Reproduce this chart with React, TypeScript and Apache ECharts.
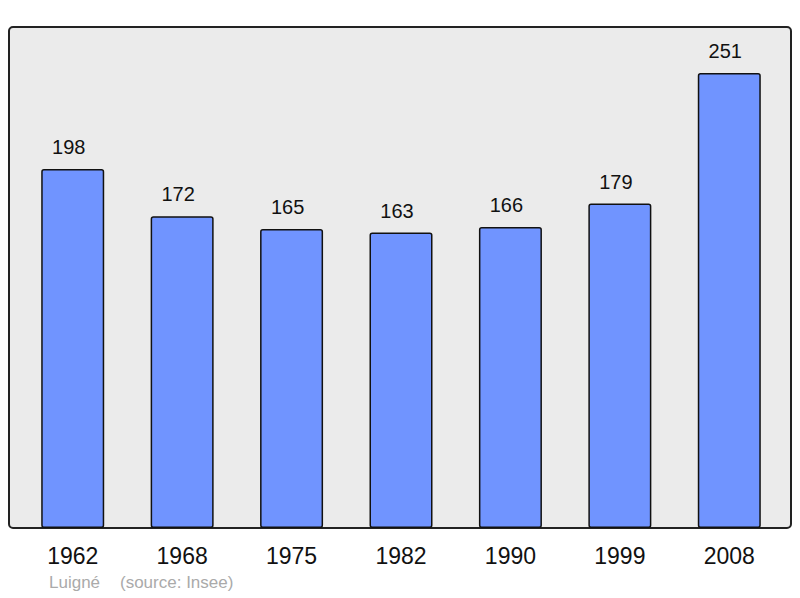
import React, { useEffect, useRef } from "react";
import * as echarts from "echarts";

const years = ["1962", "1968", "1975", "1982", "1990", "1999", "2008"];
const population = [198, 172, 165, 163, 166, 179, 251];
const footerName = "Luigné";
const footerSource = "(source: Insee)";

export default function App() {
  const ref = useRef<HTMLDivElement>(null);
  useEffect(() => {
    if (!ref.current) return;
    const chart = echarts.init(ref.current, null, { renderer: "svg" });
    chart.setOption({
      animation: false,
      textStyle: { fontFamily: "Liberation Sans, Arial, sans-serif" },
      graphic: [
        {
          type: "rect",
          z: -10,
          shape: { x: 9, y: 27, width: 782, height: 501, r: 4 },
          style: { fill: "#ebebeb", stroke: "#222", lineWidth: 2 },
        },
        {
          type: "text",
          left: 49,
          top: 574,
          style: { text: footerName, fill: "#aaaaaa", font: "17px Liberation Sans, Arial, sans-serif" },
        },
        {
          type: "text",
          left: 120,
          top: 574,
          style: { text: footerSource, fill: "#aaaaaa", font: "17px Liberation Sans, Arial, sans-serif" },
        },
      ],
      grid: { left: 18, right: 16, top: 73, bottom: 70 },
      xAxis: {
        type: "category",
        data: years,
        axisLine: { show: false },
        axisTick: { show: false },
        axisLabel: { color: "#111", fontSize: 23, margin: 16, fontFamily: "Liberation Sans, Arial, sans-serif" },
      },
      yAxis: { type: "value", min: 0, max: 251, show: false },
      series: [
        {
          type: "bar",
          data: population,
          barWidth: 63,
          itemStyle: { color: "#7094ff", borderColor: "#111", borderWidth: 1.5, borderRadius: 2 },
          label: {
            show: true,
            position: "top",
            distance: 11,
            offset: [-4, -1],
            color: "#111",
            fontSize: 20,
            fontFamily: "Liberation Sans, Arial, sans-serif",
          },
        },
      ],
    });
    return () => chart.dispose();
  }, []);
  return <div ref={ref} style={{ width: 800, height: 598, position: "absolute", left: 0, top: 0 }} />;
}
